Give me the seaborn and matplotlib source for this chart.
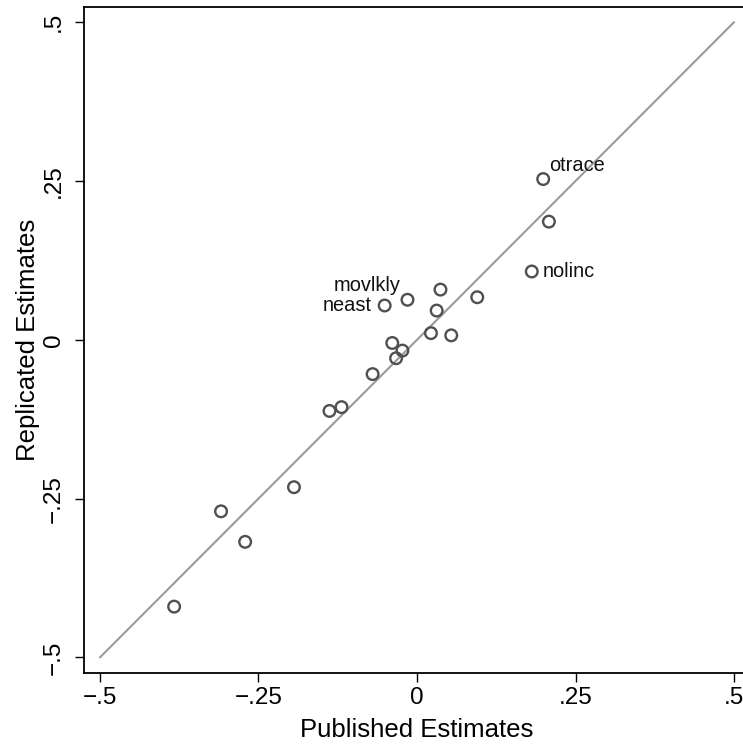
import matplotlib
matplotlib.use("Agg")
import matplotlib.pyplot as plt
import seaborn as sns
import pandas as pd

# ---- data ----
published = [0.199, 0.208, 0.181, 0.037, 0.095, -0.015, -0.051, 0.031, 0.022, 0.054,
             -0.039, -0.023, -0.033, -0.070, -0.119, -0.138, -0.194, -0.309, -0.271, -0.383]
replicated = [0.253, 0.186, 0.1075, 0.079, 0.067, 0.063, 0.054, 0.046, 0.0105, 0.007,
              -0.005, -0.017, -0.029, -0.054, -0.106, -0.112, -0.232, -0.270, -0.318, -0.420]
labels = ["otrace", "", "nolinc", "", "", "movlkly", "neast", "", "", "",
          "", "", "", "", "", "", "", "", "", ""]
line_x = [-0.5, 0.5]
line_y = [-0.5, 0.5]
tick_vals = [-0.5, -0.25, 0, 0.25, 0.5]
tick_labels = ["\u2212.5", "\u2212.25", "0", ".25", ".5"]

df = pd.DataFrame({"published": published, "replicated": replicated, "label": labels})
line_df = pd.DataFrame({"x": line_x, "y": line_y})

sns.set_theme(style="white")
plt.rcParams["font.family"] = ["Liberation Sans", "DejaVu Sans"]

W, H = 743, 745
fig = plt.figure(figsize=(W / 100, H / 100), dpi=100)
ax = fig.add_axes([83.5 / W, (H - 672.7) / H, 667.0 / W, 665.8 / H])

sns.lineplot(data=line_df, x="x", y="y", ax=ax, color="#9a9a9a", linewidth=1.5)
sns.scatterplot(data=df, x="published", y="replicated", ax=ax, s=70,
                facecolors="none", edgecolor="#505050", linewidth=1.7, zorder=3)

# label offsets in points (clock positions)
offsets = {"otrace": (4, 10, "left"), "nolinc": (8, 0, "left"),
           "movlkly": (-5, 10.5, "right"), "neast": (-9, 0, "right")}
for x, y, lab in zip(published, replicated, labels):
    if lab:
        dx, dy, ha = offsets[lab]
        ax.annotate(lab, (x, y), xytext=(dx, dy), textcoords="offset points",
                    ha=ha, va="center", fontsize=14.4, color="#111111")

ax.set_xlim(-0.5259, 0.5259)
ax.set_ylim(-0.524, 0.524)
ax.set_xticks(tick_vals)
ax.set_xticklabels(tick_labels)
ax.set_yticks(tick_vals)
ax.set_yticklabels(tick_labels, rotation=90, va="center")
ax.tick_params(axis="both", direction="out", length=6.5, width=1.0, color="black",
               labelsize=17.5, labelcolor="black", bottom=True, left=True)
ax.tick_params(axis="x", pad=4)
ax.tick_params(axis="y", pad=7)
ax.set_xlabel("Published Estimates", fontsize=18.5, color="black", labelpad=6)
ax.set_ylabel("Replicated Estimates", fontsize=18.5, color="black", labelpad=2)
for sp in ax.spines.values():
    sp.set_color("black")
    sp.set_linewidth(1.3)

fig.savefig("out.png", dpi=100)
